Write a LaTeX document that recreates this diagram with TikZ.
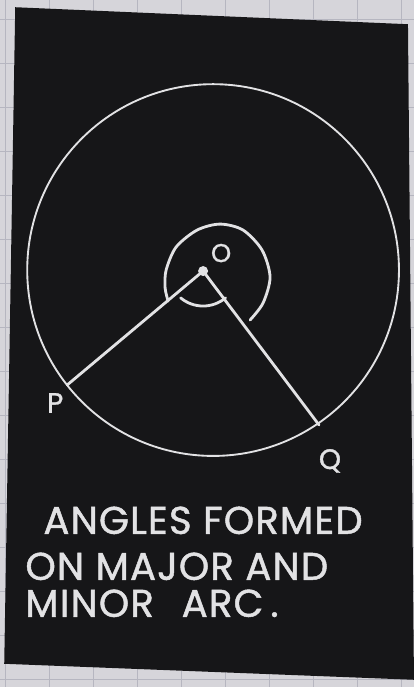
\documentclass[tikz,border=0pt]{standalone}
\usepackage{fontspec}
\usepackage{tikz}
\usetikzlibrary{positioning,calc}
\newfontfamily\chalkfont[LetterSpace=3,FakeBold=1.2]{Poppins}
\definecolor{board}{RGB}{22,22,24}
\definecolor{chalkwhite}{RGB}{226,226,228}
\definecolor{paper}{RGB}{214,213,218}
\definecolor{gridline}{RGB}{182,182,192}

\begin{document}
\begin{tikzpicture}[x=0.03cm, y=-0.03cm,
  chalk/.style={draw=chalkwhite, line width=2.4pt, line cap=round, line join=round},
  rim/.style={draw=chalkwhite, line width=1.6pt},
  lbl/.style={text=chalkwhite, font=\chalkfont\fontsize{24}{24}\selectfont, inner sep=0pt},
  caption/.style={text=chalkwhite, font=\chalkfont\fontsize{33}{33}\selectfont, anchor=base west, inner sep=0pt}]
  % paper and card
  \fill[paper] (0,0) rectangle (414,687);
  \foreach \y in {19,63,...,687}
    \draw[gridline, line width=0.4pt] (0,\y) -- (414,\y);
  \foreach \x in {5,49,...,414}
    \draw[gridline, line width=0.4pt] (\x,0) -- (\x,687);
  \fill[board] (15,7) -- (408,24) -- (414,680) -- (4,664) -- cycle;
  \useasboundingbox (0,0) rectangle (414,687);

  % circle and radii
  \coordinate (C) at (213,270);
  \draw[rim] (C) circle[radius=186];
  \coordinate (O) at (203,271);
  \coordinate (P) at (67,385);
  \coordinate (Q) at (319,425);
  \draw[chalk] (P) -- (O) -- (Q);
  \fill[chalkwhite] (O) circle[radius=5];

  % angle on minor arc
  \draw[chalk] ($(O)+(130:35)$) arc[start angle=130, end angle=50, radius=35];
  % angle on major arc
  \draw[chalk] plot[smooth] coordinates {(168,301) (165,288) (166,270) (176,247) (197,230)
    (220,224) (243,230) (262,250) (270,277) (263,303) (250,320)};

  \node[lbl] (pLbl) at (55,403) {P};
  \node[lbl] (qLbl) at (330,461) {Q};
  \node[lbl, font=\chalkfont\fontsize{22}{22}\selectfont] (oLbl) at (221,253) {O};

  \node[caption] (line1) at (43,534) {ANGLES FORMED};
  \node[caption] (line2) at (25,580) {ON MAJOR AND};
  \node[caption] (line3) at (25,617) {MINOR\hspace{14pt} ARC\hspace{6pt}.};
\end{tikzpicture}
\end{document}
